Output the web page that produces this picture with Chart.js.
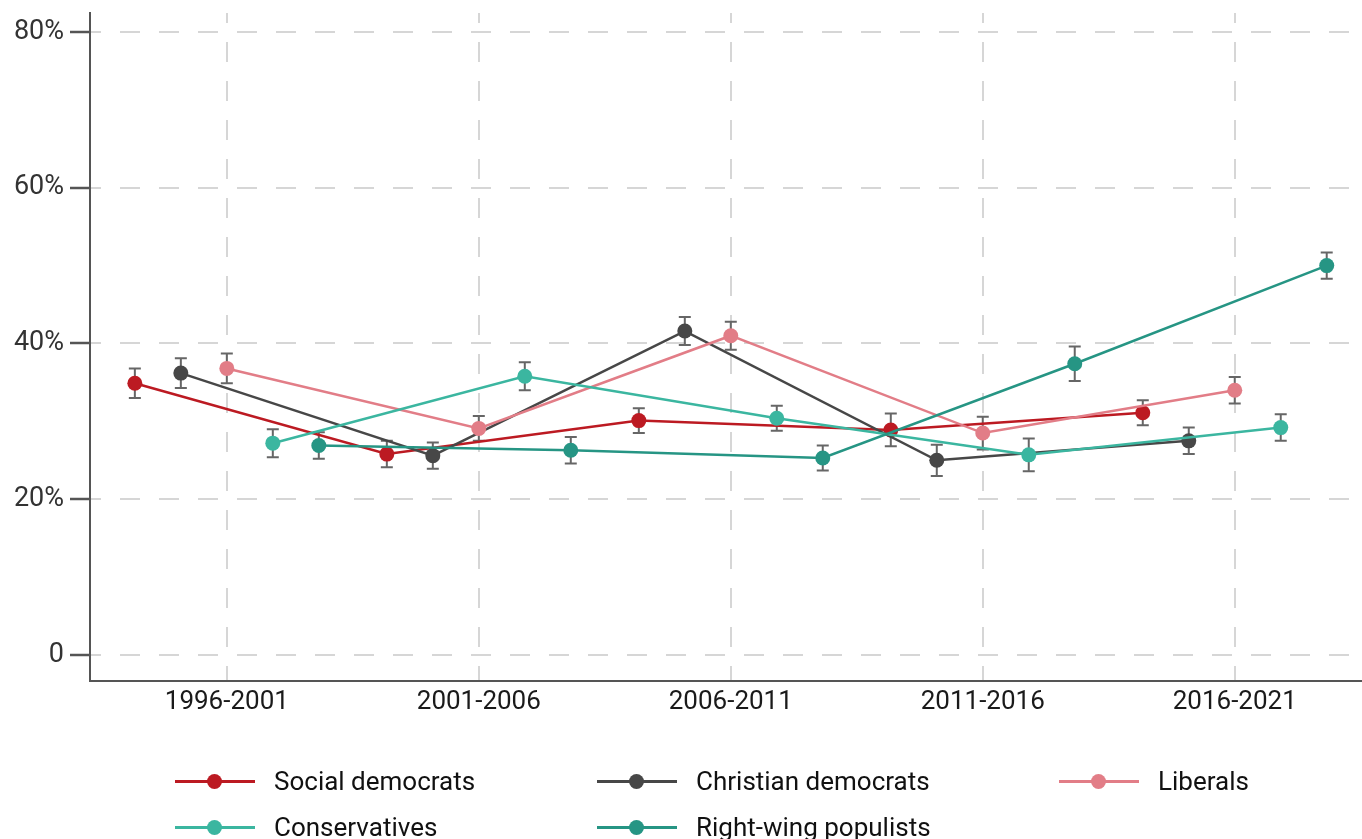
<!DOCTYPE html>
<html>
<head>
<meta charset="utf-8">
<script src="https://cdn.jsdelivr.net/npm/chart.js@4.4.1/dist/chart.umd.min.js"></script>
<style>
  html, body { margin: 0; padding: 0; background: #ffffff; }
  #wrap { position: relative; width: 1362px; height: 839px; overflow: hidden; }
  #chart { position: absolute; left: 0; top: 0; }
  .lg-item { position: absolute; height: 30px; display: flex; align-items: center;
             font-family: Roboto, "Noto Sans", sans-serif; font-size: 26px; color: #111; white-space: nowrap; }
  .lg-key { position: relative; width: 80px; height: 30px; margin-right: 19px; }
  .lg-line { position: absolute; left: 0; right: 0; top: 14px; height: 2.5px; }
  .lg-dot { position: absolute; left: 32px; top: 7.5px; width: 15px; height: 15px; border-radius: 50%; }
</style>
</head>
<body>
<div id="wrap">
  <canvas id="chart" width="1362" height="839"></canvas>
  <div id="legend"></div>
</div>
<script>
// Periods on the x axis
const periods = ['1996-2001', '2001-2006', '2006-2011', '2011-2016', '2016-2021'];
const yTicks = [0, 20, 40, 60, 80];

// Share (%) per party family and period, with half-width of the 95% interval
const seriesNames = ['Social democrats', 'Christian democrats', 'Liberals', 'Conservatives', 'Right-wing populists'];
const socialDemocrats      = [34.9, 25.8, 30.1, 28.9, 31.1];
const socialDemocratsCI    = [1.9, 1.7, 1.6, 2.1, 1.6];
const christianDemocrats   = [36.2, 25.6, 41.6, 25.0, 27.5];
const christianDemocratsCI = [1.9, 1.7, 1.8, 2.0, 1.7];
const liberals             = [36.8, 29.1, 41.0, 28.5, 34.0];
const liberalsCI           = [1.9, 1.6, 1.8, 2.1, 1.7];
const conservatives        = [27.2, 35.8, 30.4, 25.7, 29.2];
const conservativesCI      = [1.8, 1.8, 1.6, 2.1, 1.7];
const rightWingPopulists   = [26.9, 26.3, 25.3, 37.4, 50.0];
const rightWingPopulistsCI = [1.7, 1.7, 1.6, 2.2, 1.7];

const seriesValues = [socialDemocrats, christianDemocrats, liberals, conservatives, rightWingPopulists];
const seriesCI = [socialDemocratsCI, christianDemocratsCI, liberalsCI, conservativesCI, rightWingPopulistsCI];
const colors = ['#BC1A22', '#474747', '#E27D87', '#3BB6A0', '#269584'];

// horizontal dodge so the five series sit side by side within each period
const dodge = [-0.365, -0.1825, 0, 0.1825, 0.365];

const FONT = 'Roboto, "Noto Sans", sans-serif';

const datasets = seriesNames.map((name, s) => ({
  label: name,
  data: seriesValues[s].map((v, i) => ({ x: i + dodge[s], y: v })),
  ci: seriesCI[s],
  borderColor: colors[s],
  backgroundColor: colors[s],
  borderWidth: 2.5,
  pointRadius: 7.5,
  pointHoverRadius: 7.5,
  pointBorderWidth: 0,
  pointBackgroundColor: colors[s],
  tension: 0,
  order: seriesNames.length - s
}));

// Error bars with caps, drawn underneath the lines and markers
const errorBars = {
  id: 'errorBars',
  beforeDatasetsDraw(chart) {
    const { ctx, scales: { x, y } } = chart;
    ctx.save();
    ctx.strokeStyle = '#666666';
    ctx.lineWidth = 2;
    chart.data.datasets.forEach((ds) => {
      ds.data.forEach((p, i) => {
        const px = x.getPixelForValue(p.x);
        const lo = y.getPixelForValue(p.y - ds.ci[i]);
        const hi = y.getPixelForValue(p.y + ds.ci[i]);
        ctx.beginPath();
        ctx.moveTo(px, lo); ctx.lineTo(px, hi);
        ctx.moveTo(px - 6, lo); ctx.lineTo(px + 6, lo);
        ctx.moveTo(px - 6, hi); ctx.lineTo(px + 6, hi);
        ctx.stroke();
      });
    });
    ctx.restore();
  }
};

new Chart(document.getElementById('chart'), {
  type: 'line',
  data: { datasets },
  plugins: [errorBars],
  options: {
    responsive: false,
    animation: false,
    events: [],
    layout: { autoPadding: false, padding: { top: 13, right: 0, bottom: 108, left: 0 } },
    plugins: { legend: { display: false }, tooltip: { enabled: false } },
    scales: {
      x: {
        type: 'linear',
        min: -0.543,
        max: 4.505,
        afterBuildTicks: (scale) => { scale.ticks = periods.map((_, i) => ({ value: i })); },
        afterFit: (scale) => { scale.height = 50; scale.paddingLeft = 0; scale.paddingRight = 0; },
        ticks: {
          callback: (v) => periods[v],
          font: { family: FONT, size: 26 },
          color: '#1a1a1a',
          padding: 6,
          maxRotation: 0,
          autoSkip: false
        },
        grid: {
          color: '#d6d6d6',
          lineWidth: 2,
          drawTicks: false
        },
        border: { display: true, color: '#555555', width: 2, dash: [20, 19], dashOffset: 10 }
      },
      y: {
        type: 'linear',
        min: -3.34,
        max: 82.44,
        afterBuildTicks: (scale) => { scale.ticks = yTicks.map(v => ({ value: v })); },
        afterFit: (scale) => { scale.width = 90; scale.paddingTop = 0; scale.paddingBottom = 0; },
        ticks: {
          callback: (v) => v === 0 ? '0' : v + '%',
          font: { family: FONT, size: 27 },
          color: '#333333',
          padding: 6
        },
        grid: {
          color: '#d6d6d6',
          lineWidth: 2,
          drawTicks: true,
          tickLength: 20,
          tickColor: '#555555',
          tickWidth: 2.5,
          tickBorderDash: []
        },
        border: { display: true, color: '#555555', width: 2, dash: [20, 19], dashOffset: 10 }
      }
    }
  }
});

// Legend laid out in three columns
const legendCols = [175, 597, 1059];
const legendRows = [781, 827];
const legend = document.getElementById('legend');
seriesNames.forEach((name, s) => {
  const item = document.createElement('div');
  item.className = 'lg-item';
  item.style.left = legendCols[s % 3] + 'px';
  item.style.top = (legendRows[Math.floor(s / 3)] - 15) + 'px';
  item.innerHTML = '<div class="lg-key"><div class="lg-line" style="background:' + colors[s] +
    '"></div><div class="lg-dot" style="background:' + colors[s] + '"></div></div><span>' + name + '</span>';
  legend.appendChild(item);
});
</script>
</body>
</html>
